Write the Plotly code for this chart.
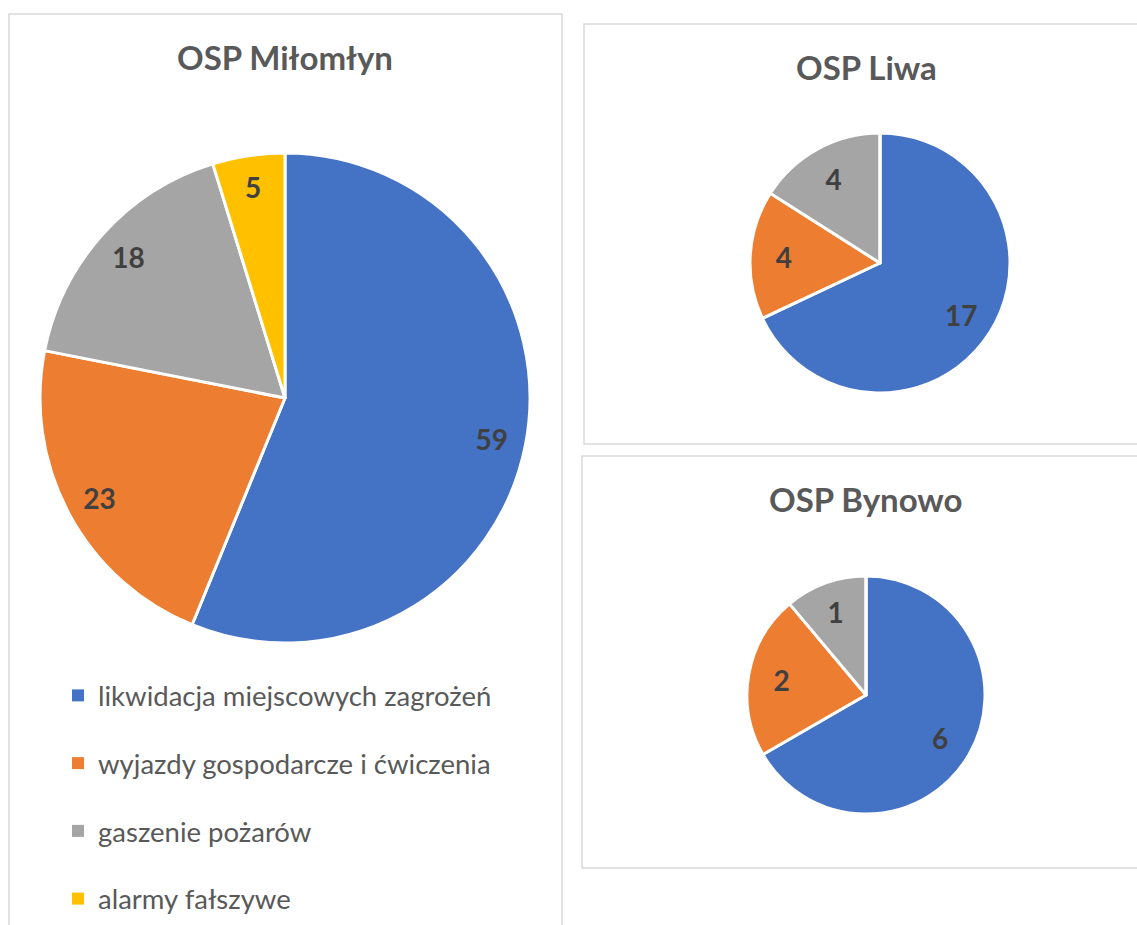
import plotly.graph_objects as go

W, H = 1137, 925

categories = ["likwidacja miejscowych zagrożeń", "wyjazdy gospodarcze i ćwiczenia",
              "gaszenie pożarów", "alarmy fałszywe"]
colors = ["#4472C4", "#ED7D31", "#A5A5A5", "#FFC000"]

milomlyn_values = [59, 23, 18, 5]
liwa_values = [17, 4, 4, 0]
bynowo_values = [6, 2, 1, 0]

titles = ["OSP Miłomłyn", "OSP Liwa", "OSP Bynowo"]

FONT = "Lato, 'Open Sans', sans-serif"

def px(x):
    return x / W

def py(y):
    return 1 - y / H

def pies(values, x0, x1, ytop, ybot, label_hole):
    dom = dict(x=[px(x0), px(x1)], y=[py(ybot), py(ytop)])
    base = go.Pie(
        labels=categories, values=values, sort=False, direction="clockwise", rotation=0,
        marker=dict(colors=colors, line=dict(color="white", width=3)),
        textinfo="none", domain=dom, showlegend=False, hoverinfo="label+value",
    )
    # transparent ring carrying the data labels, so they sit toward the rim
    labels_ring = go.Pie(
        labels=categories, values=values, sort=False, direction="clockwise", rotation=0,
        hole=label_hole,
        marker=dict(colors=["rgba(0,0,0,0)"] * len(categories), line=dict(width=0)),
        textinfo="value", textposition="inside", insidetextorientation="horizontal",
        textfont=dict(family=FONT, size=28, color="#404040", weight="bold"),
        domain=dom, showlegend=False, hoverinfo="skip",
    )
    return [base, labels_ring]

fig = go.Figure()
for t in pies(milomlyn_values, 40, 530, 153, 643, 0.72):
    fig.add_trace(t)
for t in pies(liwa_values, 750, 1010, 133, 393, 0.48):
    fig.add_trace(t)
for t in pies(bynowo_values, 747, 985, 576, 814, 0.44):
    fig.add_trace(t)

# legend entries
for i, (c, col) in enumerate(zip(categories, colors)):
    fig.add_trace(go.Scatter(
        x=[None], y=[None], mode="markers", name=c, legendgroup=f"g{i}",
        marker=dict(symbol="square", size=12, color=col), showlegend=True,
    ))

shapes = [
    dict(type="rect", xref="paper", yref="paper", x0=px(9), x1=px(562), y0=py(940), y1=py(14),
         line=dict(color="#D9D9D9", width=1.5), fillcolor="rgba(0,0,0,0)", layer="below"),
    dict(type="rect", xref="paper", yref="paper", x0=px(584), x1=px(1150), y0=py(444), y1=py(24),
         line=dict(color="#D9D9D9", width=1.5), fillcolor="rgba(0,0,0,0)", layer="below"),
    dict(type="rect", xref="paper", yref="paper", x0=px(582), x1=px(1150), y0=py(868), y1=py(456),
         line=dict(color="#D9D9D9", width=1.5), fillcolor="rgba(0,0,0,0)", layer="below"),
]

title_pos = [(285, 57), (866, 67), (866, 499)]
annotations = [
    dict(text=f"<b>{t}</b>", x=px(x), y=py(y), xref="paper", yref="paper",
         xanchor="center", yanchor="middle", showarrow=False,
         font=dict(family=FONT, size=33, color="#595959"))
    for t, (x, y) in zip(titles, title_pos)
]

fig.update_layout(
    width=W, height=H, margin=dict(l=0, r=0, t=0, b=0),
    paper_bgcolor="white", plot_bgcolor="white",
    xaxis=dict(visible=False), yaxis=dict(visible=False),
    shapes=shapes, annotations=annotations,
    legend=dict(x=px(58), y=py(671), xanchor="left", yanchor="top",
                font=dict(family=FONT, size=27.5, color="#595959"),
                tracegroupgap=29, bgcolor="rgba(0,0,0,0)"),
)

fig.write_html("out.html", config={"displayModeBar": False},
               post_script="document.body.style.margin='0';document.body.style.overflow='hidden';")
